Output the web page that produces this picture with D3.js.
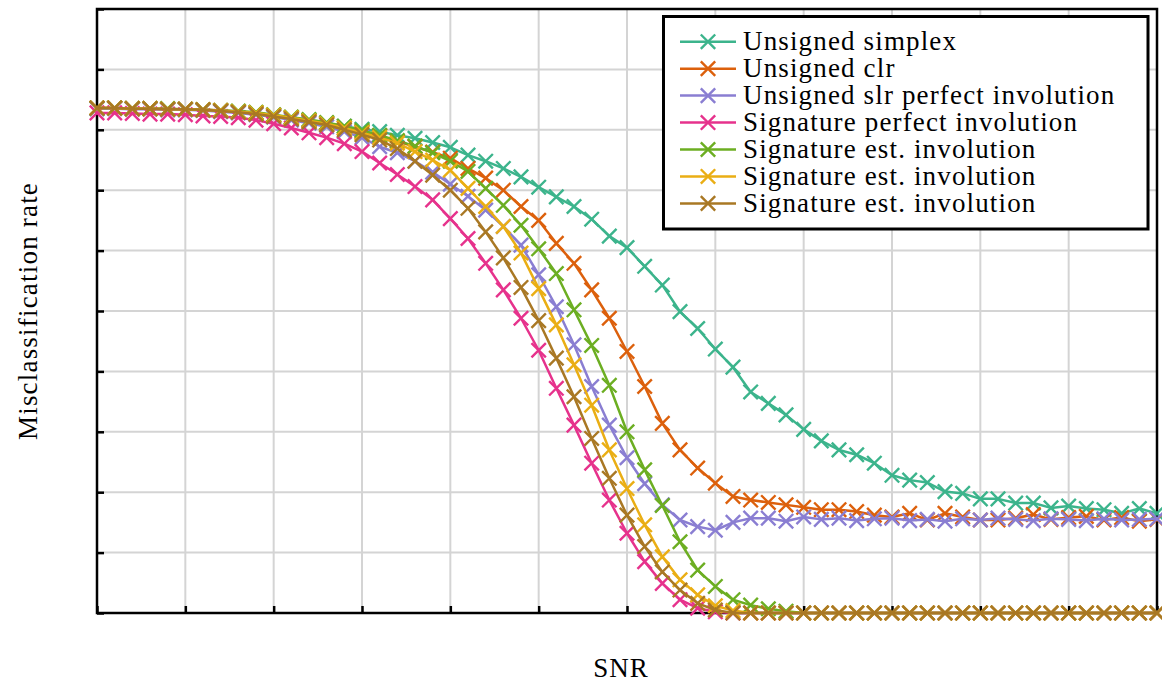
<!DOCTYPE html>
<html>
<head>
<meta charset="utf-8">
<script src="https://cdn.jsdelivr.net/npm/d3@7"></script>
<style>
  html, body { margin: 0; padding: 0; background: #fff; }
  svg { display: block; }
  text { font-family: "Liberation Serif", "DejaVu Serif", serif; fill: #000; }
</style>
</head>
<body>
<svg id="chart" width="1162" height="686"></svg>
<script>
const snr = d3.range(-30, 31);

const seriesNames = [
  "Unsigned simplex",
  "Unsigned clr",
  "Unsigned slr perfect involution",
  "Signature perfect involution",
  "Signature est. involution",
  "Signature est. involution",
  "Signature est. involution"
];
const seriesColors = ["#3cb48c", "#dc600c", "#8a7ed2", "#e6328c", "#6cae22", "#eaae14", "#a97824"];

const unsignedSimplex = [0.835,0.836,0.835,0.835,0.834,0.834,0.833,0.832,0.830,0.828,
  0.824,0.820,0.816,0.811,0.806,0.801,0.797,0.791,0.786,0.779,
  0.771,0.758,0.748,0.736,0.722,0.705,0.689,0.673,0.652,0.624,
  0.605,0.574,0.543,0.499,0.471,0.437,0.407,0.366,0.347,0.328,
  0.304,0.285,0.270,0.262,0.248,0.228,0.220,0.216,0.201,0.198,
  0.189,0.189,0.182,0.182,0.174,0.177,0.173,0.171,0.165,0.173,0.165];
const unsignedClr = [0.836,0.836,0.835,0.835,0.834,0.834,0.833,0.832,0.830,0.828,
  0.824,0.820,0.815,0.810,0.803,0.797,0.790,0.781,0.772,0.763,
  0.753,0.736,0.720,0.700,0.673,0.650,0.612,0.579,0.535,0.488,
  0.433,0.375,0.314,0.270,0.240,0.215,0.193,0.187,0.183,0.179,
  0.175,0.171,0.171,0.168,0.162,0.159,0.165,0.154,0.165,0.159,
  0.154,0.154,0.157,0.163,0.155,0.158,0.160,0.154,0.158,0.152,0.155];
const unsignedSlr = [0.835,0.835,0.834,0.834,0.833,0.833,0.832,0.830,0.828,0.825,
  0.821,0.816,0.811,0.805,0.797,0.787,0.772,0.762,0.748,0.730,
  0.710,0.690,0.667,0.640,0.609,0.560,0.507,0.444,0.375,0.311,
  0.257,0.214,0.179,0.154,0.143,0.137,0.150,0.157,0.157,0.152,
  0.159,0.155,0.157,0.153,0.156,0.157,0.153,0.155,0.152,0.156,
  0.154,0.157,0.155,0.153,0.156,0.155,0.153,0.156,0.154,0.155,0.156];
const signaturePerfect = [0.828,0.828,0.827,0.826,0.826,0.825,0.823,0.822,0.820,0.816,
  0.810,0.803,0.795,0.787,0.777,0.764,0.745,0.726,0.706,0.684,
  0.653,0.620,0.579,0.535,0.488,0.435,0.372,0.311,0.248,0.187,
  0.132,0.085,0.049,0.022,0.008,0.002,0,0,0,0,
  0,0,0,0,0,0,0,0,0,0,
  0,0,0,0,0,0,0,0,0,0,0];
const signatureEst1 = [0.836,0.836,0.835,0.835,0.835,0.834,0.833,0.832,0.831,0.829,
  0.825,0.821,0.817,0.812,0.806,0.799,0.791,0.782,0.773,0.762,
  0.748,0.731,0.703,0.675,0.642,0.603,0.562,0.502,0.443,0.377,
  0.300,0.237,0.178,0.118,0.071,0.044,0.022,0.013,0.007,0.003,
  0,0,0,0,0,0,0,0,0,0,
  0,0,0,0,0,0,0,0,0,0,0];
const signatureEst2 = [0.836,0.836,0.835,0.835,0.834,0.834,0.833,0.832,0.830,0.828,
  0.824,0.820,0.815,0.810,0.803,0.795,0.787,0.778,0.764,0.750,
  0.733,0.703,0.673,0.640,0.596,0.537,0.477,0.411,0.344,0.270,
  0.206,0.146,0.093,0.055,0.030,0.012,0.004,0,0,0,
  0,0,0,0,0,0,0,0,0,0,
  0,0,0,0,0,0,0,0,0,0,0];
const signatureEst3 = [0.836,0.836,0.835,0.835,0.834,0.834,0.833,0.831,0.829,0.826,
  0.822,0.818,0.813,0.808,0.800,0.792,0.783,0.769,0.748,0.725,
  0.700,0.670,0.631,0.588,0.539,0.484,0.422,0.358,0.289,0.223,
  0.162,0.110,0.068,0.038,0.016,0.005,0,0,0,0,
  0,0,0,0,0,0,0,0,0,0,
  0,0,0,0,0,0,0,0,0,0,0];

const seriesValues = [unsignedSimplex, unsignedClr, unsignedSlr, signaturePerfect,
  signatureEst1, signatureEst2, signatureEst3];

const xTicks = [-30,-25,-20,-15,-10,-5,0,5,10,15,20,25,30];
const yTicks = [0,0.1,0.2,0.3,0.4,0.5,0.6,0.7,0.8,0.9,1];

const svg = d3.select("#chart");
const L = 97, R = 1157, T = 9, B = 613;

const x = d3.scaleLinear().domain([-30, 30]).range([L, R]);
const y = d3.scaleLinear().domain([0, 1]).range([B, T]);

// grid
const grid = svg.append("g");
grid.selectAll("line.vx").data(xTicks).join("line")
  .attr("x1", d => x(d)).attr("x2", d => x(d)).attr("y1", T).attr("y2", B)
  .attr("stroke", "#d4d4d4").attr("stroke-width", 2);
grid.selectAll("line.hy").data(yTicks).join("line")
  .attr("x1", L).attr("x2", R).attr("y1", d => y(d)).attr("y2", d => y(d))
  .attr("stroke", "#d4d4d4").attr("stroke-width", 2);

// axes (inward ticks, no labels)
const xAxis = d3.axisBottom(x).tickValues(xTicks).tickSizeInner(-7).tickSizeOuter(0).tickFormat("");
const yAxis = d3.axisLeft(y).tickValues(yTicks).tickSizeInner(-7).tickSizeOuter(0).tickFormat("");
const gx = svg.append("g").attr("transform", `translate(0,${B})`).call(xAxis);
const gy = svg.append("g").attr("transform", `translate(${L},0)`).call(yAxis);
[gx, gy].forEach(g => {
  g.select(".domain").remove();
  g.selectAll(".tick line").attr("stroke", "#000").attr("stroke-width", 2.5);
});

// frame
svg.append("rect").attr("x", L).attr("y", T).attr("width", R - L).attr("height", B - T)
  .attr("fill", "none").attr("stroke", "#000").attr("stroke-width", 2.5);

// series
const line = d3.line().x((d, i) => x(snr[i])).y(d => y(d));
const ms = 7.2;
const crossPath = `M${-ms},${-ms}L${ms},${ms}M${-ms},${ms}L${ms},${-ms}`;

seriesValues.forEach((vals, k) => {
  const g = svg.append("g");
  g.append("path").datum(vals).attr("d", line)
    .attr("fill", "none").attr("stroke", seriesColors[k]).attr("stroke-width", 2.5)
    .attr("stroke-linejoin", "round");
  g.selectAll("path.m").data(vals).join("path")
    .attr("class", "m")
    .attr("transform", (d, i) => `translate(${x(snr[i])},${y(d)})`)
    .attr("d", crossPath)
    .attr("stroke", seriesColors[k]).attr("stroke-width", 2.4).attr("fill", "none");
});

// legend
const lg = svg.append("g");
lg.append("rect").attr("x", 663.5).attr("y", 16.5).attr("width", 484.5).attr("height", 212.5)
  .attr("fill", "#fff").attr("stroke", "#000").attr("stroke-width", 3);
seriesNames.forEach((name, k) => {
  const cy = 41.7 + k * 26.95;
  lg.append("line").attr("x1", 680).attr("x2", 736).attr("y1", cy).attr("y2", cy)
    .attr("stroke", seriesColors[k]).attr("stroke-width", 2.5);
  lg.append("path").attr("transform", `translate(708,${cy})`).attr("d", crossPath)
    .attr("stroke", seriesColors[k]).attr("stroke-width", 2.4);
  lg.append("text").attr("x", 743).attr("y", cy + 8.5)
    .attr("font-size", 27).attr("letter-spacing", 1.15).text(name);
});

// axis labels
svg.append("text").attr("x", (L + R) / 2 - 6).attr("y", 677)
  .attr("text-anchor", "middle").attr("font-size", 27).attr("letter-spacing", 1).text("SNR");
svg.append("text").attr("transform", "translate(37,311) rotate(-90)")
  .attr("text-anchor", "middle").attr("font-size", 27).attr("letter-spacing", 1.2)
  .text("Misclassification rate");
</script>
</body>
</html>
